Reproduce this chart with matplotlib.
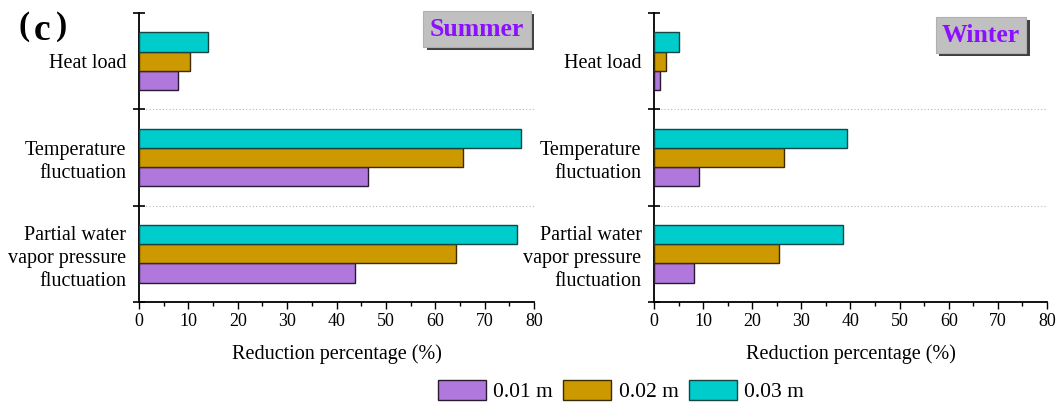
import matplotlib
matplotlib.use("Agg")
import matplotlib.pyplot as plt
import matplotlib.patheffects as pe
import numpy as np
from matplotlib.patches import Patch
from matplotlib.ticker import MultipleLocator

plt.rcParams['font.family'] = ['Liberation Serif', 'Noto Sans CJK SC', 'DejaVu Sans']

categories = ["Heat load", "Temperature\nfluctuation", "Partial water\nvapor pressure\nfluctuation"]
series_labels = ["0.01 m", "0.02 m", "0.03 m"]
summer_001 = [7.8, 46.3, 43.7]
summer_002 = [10.4, 65.7, 64.2]
summer_003 = [13.9, 77.3, 76.5]
winter_001 = [1.2, 9.1, 8.2]
winter_002 = [2.4, 26.4, 25.5]
winter_003 = [5.0, 39.3, 38.4]
panel_titles = ["Summer", "Winter"]

colors = ["#B077DD", "#CC9900", "#00CCCC"]
edges = ["#2a1a30", "#3a2c00", "#164545"]

fig = plt.figure(figsize=(10.61, 4.07), dpi=100)
W, H = 1061, 407
ax_l = fig.add_axes([139 / W, 1 - 302 / H, 395 / W, 289 / H])
ax_r = fig.add_axes([654 / W, 1 - 302 / H, 393 / W, 289 / H])

panels = [(ax_l, [summer_001, summer_002, summer_003]),
          (ax_r, [winter_001, winter_002, winter_003])]

pos = np.arange(len(categories))
bh = 0.2
offsets = [-bh, 0.0, bh]

for ax, data in panels:
    for i, vals in enumerate(data):
        ax.barh(pos - offsets[i], vals, height=bh, color=colors[i],
                edgecolor=edges[i], linewidth=1.0, zorder=3)
    ax.set_ylim(len(categories) - 0.5, -0.5)
    ax.set_xlim(0, 80)
    ax.xaxis.set_major_locator(MultipleLocator(10))
    ax.xaxis.set_minor_locator(MultipleLocator(5))
    ax.set_yticks(pos)
    ax.set_yticklabels(categories, fontsize=14.5, linespacing=1.3)
    ax.tick_params(axis='y', which='major', length=0, pad=9)
    ax.set_yticks(np.arange(-0.5, len(categories), 1.0), minor=True)
    ax.tick_params(axis='y', which='minor', length=8, direction='inout', width=1.2)
    ax.tick_params(axis='x', which='major', length=5, direction='out', width=1.0, labelsize=13, pad=3)
    ax.tick_params(axis='x', which='minor', length=3, direction='out', width=1.0)
    for s in ['top', 'right']:
        ax.spines[s].set_visible(False)
    for s in ['left', 'bottom']:
        ax.spines[s].set_linewidth(1.3)
    for b in [0.5, 1.5]:
        ax.axhline(b, color='#b8b8b8', linestyle=(0, (1, 2)), linewidth=0.8, zorder=1)
    ax.set_xlabel("Reduction percentage (%)", fontsize=14.5, labelpad=10)

# Panel title boxes
box = dict(boxstyle='square,pad=0.25', facecolor='#c0c0c0', edgecolor='#b0b0b0', linewidth=0.8)
for title, cx, cy in [(panel_titles[0], 477, 29), (panel_titles[1], 981, 35)]:
    t = fig.text(cx / W, 1 - cy / H, title, ha='center', va='center',
                 fontsize=18.5, fontweight='bold', color='#8B10FF', bbox=box, zorder=5)
    t.get_bbox_patch().set_path_effects([pe.SimplePatchShadow(offset=(2.2, -2.2), shadow_rgbFace='#404040', alpha=1.0), pe.Normal()])

# panel tag "(c)"
fig.text(18 / W, 1 - 27 / H, "(", fontsize=24, fontweight='bold', va='center', ha='left')
fig.text(34 / W, 1 - 30 / H, "c", fontsize=27, fontweight='bold', va='center', ha='left')
fig.text(56 / W, 1 - 27 / H, ")", fontsize=24, fontweight='bold', va='center', ha='left')

handles = [Patch(facecolor=colors[i], edgecolor=edges[i], linewidth=1.0) for i in range(3)]
fig.legend(handles, series_labels, loc='center', bbox_to_anchor=(621 / W, 1 - 391 / H),
           ncol=3, frameon=False, fontsize=15.5, handlelength=2.23, handleheight=1.07,
           handletextpad=0.33, columnspacing=0.5, borderpad=0.1)

fig.savefig("out.png", dpi=100)
